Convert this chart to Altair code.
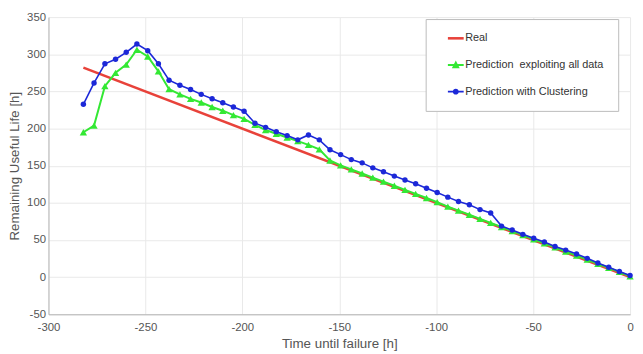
import altair as alt
import pandas as pd

# ---- data ----
t = [-282.0, -276.5, -270.9, -265.4, -259.9, -254.4, -248.8, -243.3, -237.8, -232.2,
     -226.7, -221.2, -215.6, -210.1, -204.6, -199.1, -193.5, -188.0, -182.5, -176.9,
     -171.4, -165.9, -160.3, -154.8, -149.3, -143.8, -138.2, -132.7, -127.2, -121.6,
     -116.1, -110.6, -105.0, -99.5, -94.0, -88.5, -82.9, -77.4, -71.9, -66.3,
     -60.8, -55.3, -49.7, -44.2, -38.7, -33.2, -27.6, -22.1, -16.6, -11.0,
     -5.5, 0.0]

pred_all = [195, 204, 257, 275, 286, 306, 297, 277, 253, 246,
            240, 235, 229, 224, 218, 213, 205, 198, 193, 188,
            183, 178, 172, 157, 150.5, 145, 139.5, 134, 128.5, 123,
            117.5, 112, 106.5, 101, 95, 89.5, 84, 78.5, 73, 67.5,
            62, 56.5, 51, 45.5, 40, 34.5, 29, 23.5, 18, 12.5,
            7, 1]

pred_clust = [232.6, 261.4, 287.1, 293.3, 302.6, 313.7, 304.8, 287.1, 265.0, 258.3,
              252.6, 246.0, 240.1, 234.8, 229.1, 223.3, 207.2, 201.6, 195.8, 190.5,
              184.8, 191.4, 184.8, 171.5, 164.9, 158.2, 153.8, 147.1, 141.8, 136.0,
              130.7, 125.8, 119.7, 113.9, 107.7, 101.9, 97.5, 90.9, 86.4, 68.7,
              63.4, 57.6, 52.3, 47.4, 41.2, 36.4, 31.1, 25.3, 19.1, 13.4,
              7.5, 2.2]

real_t = [-282, 0]
real_rul = [282, 0]

series_names = ["Real", "Prediction \u00a0exploiting all data", "Prediction with Clustering"]
series_colors = ["#e8423a", "#33e833", "#1c28d8"]
# legend glyphs (line + marker), unit = 5 px at symbolSize 100
legend_shapes = [
    "M-1.6,-0.26L1.6,-0.26L1.6,0.26L-1.6,0.26Z",
    "M-1.6,-0.2L1.6,-0.2L1.6,0.2L-1.6,0.2Z M-0.8,0.65L0,-0.9L0.8,0.65Z",
    "M-1.6,-0.16L1.6,-0.16L1.6,0.16L-1.6,0.16Z M-0.6,0A0.6,0.6 0 1,1 0.6,0A0.6,0.6 0 1,1 -0.6,0Z",
]

x_ticks = [-300, -250, -200, -150, -100, -50, 0]
y_ticks = [-50, 0, 50, 100, 150, 200, 250, 300, 350]

df_real = pd.DataFrame({"t": real_t, "rul": real_rul})
df_all = pd.DataFrame({"t": t, "rul": pred_all})
df_clu = pd.DataFrame({"t": t, "rul": pred_clust})
df_leg = pd.DataFrame({"series": series_names})

FONT = "Liberation Sans"
GRAY = "#555555"
PLAIN = "'' + datum.value"

x_enc = alt.X("t:Q",
              scale=alt.Scale(domain=[-300, 0], nice=False),
              axis=alt.Axis(title="Time until failure [h]", values=x_ticks, labelExpr=PLAIN,
                            labelPadding=7, titlePadding=4, labelOverlap=False, labelFlush=False))
y_enc = alt.Y("rul:Q",
              scale=alt.Scale(domain=[-50, 350], nice=False),
              axis=alt.Axis(title="Remaining Useful Life [h]", values=y_ticks, labelExpr=PLAIN,
                            labelPadding=3, titlePadding=5, labelOverlap=False, labelFlush=False))

real = alt.Chart(df_real).mark_line(color=series_colors[0], strokeWidth=2.6).encode(x=x_enc, y=y_enc)

green_line = alt.Chart(df_all).mark_line(color=series_colors[1], strokeWidth=2).encode(x=x_enc, y=y_enc)
green_pts = alt.Chart(df_all).mark_point(shape="triangle-up", filled=True, size=55,
                                         color=series_colors[1], opacity=1).encode(x=x_enc, y=y_enc)

blue_line = alt.Chart(df_clu).mark_line(color=series_colors[2], strokeWidth=1.6).encode(x=x_enc, y=y_enc)
blue_pts = alt.Chart(df_clu).mark_point(shape="circle", filled=True, size=30,
                                        color=series_colors[2], opacity=1).encode(x=x_enc, y=y_enc)

leg = alt.Legend(title=None, orient="none", legendX=382, legendY=2,
                 padding=14, rowPadding=15, labelOffset=4, symbolOffset=11,
                 strokeColor="#bbbbbb", fillColor="white",
                 symbolSize=100, symbolStrokeWidth=0,
                 labelFontSize=11, labelColor="#333333", labelFont=FONT)

legend_layer = alt.Chart(df_leg).transform_filter("false").mark_point(
    filled=True, opacity=1, size=100
).encode(
    x=x_enc, y=y_enc,
    color=alt.Color("series:N", scale=alt.Scale(domain=series_names, range=series_colors), legend=leg),
    shape=alt.Shape("series:N", scale=alt.Scale(domain=series_names, range=legend_shapes), legend=leg),
)

chart = alt.layer(real, green_line, green_pts, blue_line, blue_pts, legend_layer).properties(
    width=589, height=301,
    autosize=alt.AutoSizeParams(type="none"),
    padding={"left": 41, "top": 7, "right": 5, "bottom": 38},
).configure_view(stroke=None).configure_axis(
    grid=True, gridColor="#e9e9e9", gridWidth=1,
    domainColor="#b5b5b5", ticks=False, labelOverlap=False, labelFlush=False,
    labelFont=FONT, titleFont=FONT, labelColor=GRAY, titleColor=GRAY,
    labelFontSize=11.5, titleFontSize=13.5, titleFontWeight="normal",
)

chart.save("out.html", embed_options={"renderer": "svg", "actions": False})
